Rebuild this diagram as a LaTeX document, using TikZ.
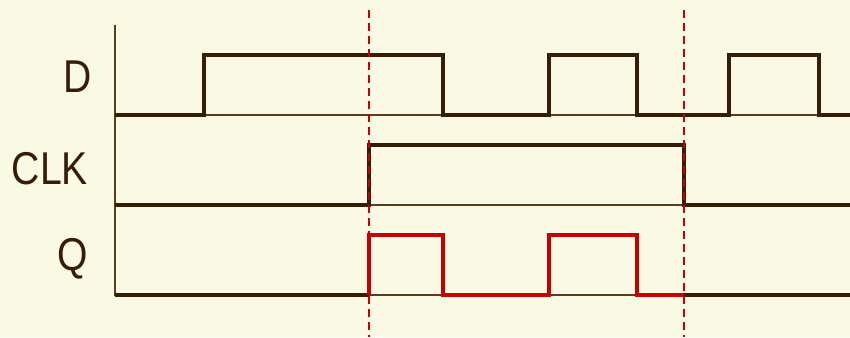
\documentclass[tikz,border=0pt]{standalone}
\usepackage{fontspec}
\setmainfont[FakeStretch=0.85]{Liberation Sans}
\definecolor{bg}{RGB}{250,250,228}
\definecolor{wbrown}{RGB}{55,28,6}
\definecolor{lbrown}{RGB}{90,60,30}
\definecolor{wred}{RGB}{200,0,0}
\begin{document}
\begin{tikzpicture}[x=1pt,y=-1pt,
  wave/.style={draw=wbrown,line width=3.5pt,line join=miter},
  redwave/.style={draw=wred,line width=3.5pt,line join=miter},
  baseln/.style={draw=lbrown,line width=1.3pt},
  marker/.style={draw=wred,line width=1.8pt,dash pattern=on 8pt off 5pt},
  lbl/.style={text=wbrown,font=\fontsize{46}{50}\selectfont,inner sep=0pt}]
\fill[bg] (0,0) rectangle (850,337);
\useasboundingbox (0,0) rectangle (850,337);
% axis and baselines
\draw[baseln,line width=1.6pt] (115,25) -- (115,296);
\draw[baseln] (115,115) -- (850,115);
\draw[baseln] (115,205) -- (850,205);
\draw[baseln] (115,295) -- (850,295);
% D
\draw[wave] (115,115) -- (204,115) -- (204,55) -- (443,55) -- (443,115) -- (549,115) -- (549,55) -- (637,55) -- (637,115) -- (729,115) -- (729,55) -- (819,55) -- (819,115) -- (850,115);
% CLK
\draw[wave] (115,205) -- (369,205) -- (369,145) -- (684,145) -- (684,205) -- (850,205);
% Q
\draw[wave] (115,295) -- (369,295);
\draw[wave] (684,295) -- (850,295);
\draw[redwave] (369,295) -- (369,235) -- (443,235) -- (443,295) -- (549,295) -- (549,235) -- (637,235) -- (637,295) -- (684,295);
% markers
\draw[marker] (369,10) -- (369,337);
\draw[marker] (684,10) -- (684,337);
% labels
\node[lbl] (d) at (78,77) {D};
\node[lbl] (clk) at (50,169) {CLK};
\node[lbl] (q) at (73,259) {Q};
\end{tikzpicture}
\end{document}
